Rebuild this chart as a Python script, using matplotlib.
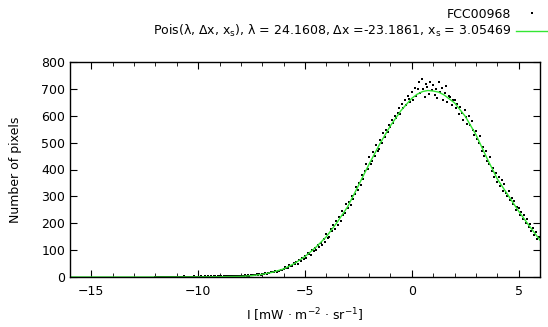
import numpy as np
import matplotlib
matplotlib.use("Agg")
import matplotlib.pyplot as plt

# histogram bins: 15 per unit from -12 to 6
x_start = -12.0
n_per_unit = 15

counts = [
    0, 0, 0, 0, 0, 0, 0, 1, 0, 0, 0, 0, 1, 0, 0,                      # -12
    0, 0, 1, 0, 0, 2, 0, 0, 1, 0, 0, 0, 2, 0, 1,                      # -11
    1, 0, 2, 1, 0, 3, 1, 2, 0, 2, 1, 3, 2, 1, 2,                      # -10
    2, 3, 1, 4, 2, 3, 2, 5, 3, 2, 4, 3, 5, 4, 3,                      # -9
    3, 5, 4, 6, 5, 7, 5, 8, 6, 9, 7, 10, 8, 11, 9,                    # -8
    12, 11, 14, 13, 16, 15, 18, 17, 20, 22, 19, 24, 23, 27, 25,       # -7
    28, 38, 33, 35, 45, 40, 42, 52, 47, 55, 50, 63, 58, 72, 66,       # -6
    80, 72, 90, 84, 81, 100, 95, 108, 99, 118, 112, 125, 120, 140, 132,  # -5
    160, 145, 150, 178, 170, 192, 180, 210, 195, 225, 208, 245, 232, 240, 270,  # -4
    255, 280, 268, 300, 290, 310, 335, 325, 350, 342, 380, 365, 395, 420, 402,  # -3
    445, 420, 430, 465, 450, 490, 470, 478, 510, 500, 535, 522, 548, 540, 565,  # -2
    560, 585, 572, 598, 590, 612, 630, 605, 645, 628, 658, 640, 675, 662, 650,  # -1
    690, 660, 705, 672, 700, 725, 683, 735, 698, 668, 718, 708, 680, 725, 695,  # 0
    715, 678, 700, 665, 725, 690, 705, 660, 685, 712, 650, 675, 668, 640, 658,  # 1
    660, 628, 645, 605, 632, 612, 585, 620, 595, 570, 600, 565, 580, 548, 530,  # 2
    545, 512, 498, 525, 470, 485, 452, 470, 432, 420, 445, 395, 405, 372, 388,  # 3
    355, 372, 340, 360, 320, 345, 312, 300, 320, 285, 295, 270, 282, 250, 262,  # 4
    258, 232, 242, 215, 230, 200, 215, 185, 198, 170, 182, 158, 168, 140, 150,  # 5
]
bins = x_start + np.arange(len(counts)) / n_per_unit

# fitted curve
fit_x = [-16, -12, -10, -9, -8, -7.5, -7, -6.5, -6, -5.5, -5, -4.5, -4, -3.5, -3,
         -2.5, -2, -1.5, -1, -0.5, 0, 0.25, 0.5, 0.75, 1, 1.25, 1.5, 2, 2.5, 3,
         3.5, 4, 4.5, 5, 5.5, 6]
fit_y = [0, 0, 0.5, 1, 2, 5, 10, 18, 30, 50, 76, 110, 150, 203, 262,
         340, 420, 495, 563, 620, 665, 680, 690, 694, 692, 688, 678, 648, 598, 530,
         445, 365, 305, 245, 190, 137]

plt.rcParams['mathtext.default'] = 'regular'
plt.rcParams['font.family'] = 'DejaVu Sans'

fig = plt.figure(figsize=(5.48, 3.27), dpi=100)
ax = fig.add_axes([70 / 548, 50 / 327, 470 / 548, 215 / 327])

ax.plot(bins, counts, linestyle='none', marker='s', ms=1.5, mew=0, color='black',
        label='FCC00968')
ax.plot(fit_x, fit_y, color='#33e633', lw=1.0,
        label='Pois(λ, Δx, x$_s$), λ = 24.1608, Δx =-23.1861, x$_s$ = 3.05469')

ax.set_xlim(-16, 6)
ax.set_ylim(0, 800)
ax.set_xticks([-15, -10, -5, 0, 5])
ax.set_xticks(np.arange(-16, 7, 1), minor=True)
ax.set_yticks(np.arange(0, 801, 100))
ax.tick_params(which='both', direction='in', top=True, right=True, labelsize=9)
ax.tick_params(which='major', length=5)
ax.tick_params(which='minor', length=3)
ax.tick_params(axis='x', pad=6)
for s in ax.spines.values():
    s.set_linewidth(1.0)

ax.set_xlabel('I [mW · m$^{-2}$ · sr$^{-1}$]', fontsize=9, labelpad=6)
ax.set_ylabel('Number of pixels', fontsize=9, labelpad=14)

leg = ax.legend(loc='lower right', bbox_to_anchor=(1.0, 1 - 39 / 327),
                bbox_transform=fig.transFigure,
                frameon=False, markerfirst=False, fontsize=9, handlelength=2.6,
                handletextpad=0.35, labelspacing=0.18, borderaxespad=0, borderpad=0,
                markerscale=1.3)
for t in leg.get_texts():
    t.set_ha('right')

fig.savefig('out.png', dpi=100)
